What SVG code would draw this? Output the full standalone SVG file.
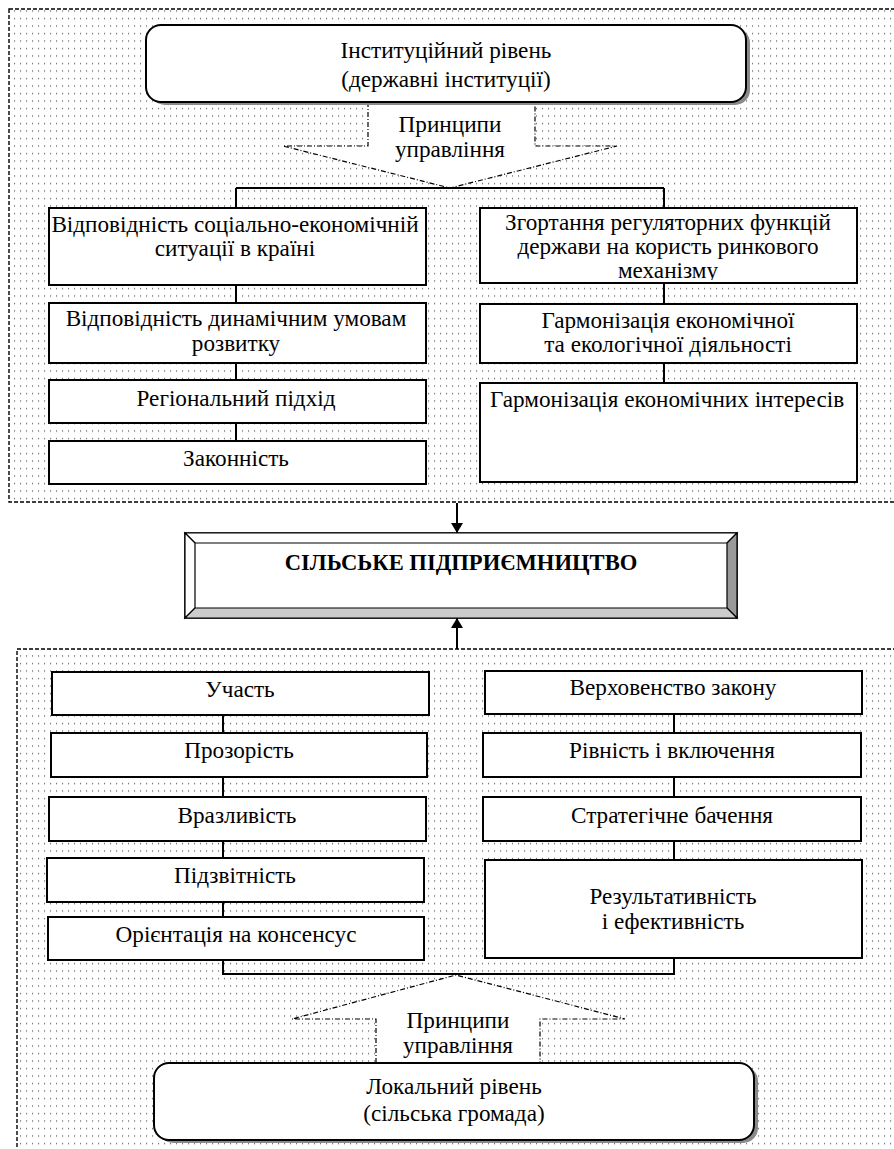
<svg xmlns="http://www.w3.org/2000/svg" width="894" height="1149" viewBox="0 0 894 1149">
<style>
.t{font-family:"Liberation Serif","Times New Roman",serif;font-size:23.2px;text-anchor:middle;fill:#000}
.b{fill:#fff;stroke:#000;stroke-width:2}
.c{fill:none;stroke:#000;stroke-width:2}
.outer{fill:url(#dots);stroke:#000;stroke-width:1.4;stroke-dasharray:4 2}
.dd{fill:none;stroke:#000;stroke-width:1.2;stroke-dasharray:5 2 1 2}
.sh{fill:#8a8a8a}
</style>
<defs>
<pattern id="dots" width="6" height="7.5" patternUnits="userSpaceOnUse">
<rect x="2" y="3" width="1.1" height="1.1" fill="#444"/>
</pattern>
<marker id="arr" viewBox="0 0 10 12" refX="10" refY="6" markerWidth="10" markerHeight="12" markerUnits="userSpaceOnUse" orient="auto">
<path d="M0,0 L10,6 L0,12 z" fill="#000"/>
</marker>
<clipPath id="clipR1"><rect x="480" y="208" width="377" height="72"/></clipPath>
</defs>

<g id="top-area">
<rect class="outer" x="9" y="9" width="892" height="493"/>
<polygon points="368,102 368,146 283,146 450,188 617,146 535,146 535,102" fill="#fff"/>
<polyline class="dd" points="368,102 368,146 283,146 450,188 617,146 535,146 535,102"/>
</g>

<g id="bottom-area">
<rect class="outer" x="17" y="649" width="884" height="520"/>
<polygon points="456,975 292,1019 376,1019 376,1063 540,1063 540,1019 625,1019" fill="#fff"/>
<polyline class="dd" points="376,1063 376,1019 292,1019 456,975 625,1019 540,1019 540,1063"/>
</g>

<g id="connectors">
<path class="c" d="M236,188 H664"/>
<path class="c" d="M236,188 V441"/>
<path class="c" d="M664,188 V383"/>
<path class="c" d="M223,715 V974 H674 V714"/>
<path class="c" d="M457,503 V533" marker-end="url(#arr)"/>
<path class="c" d="M457,649 V618" marker-end="url(#arr)"/>
</g>

<g id="institutional">
<rect class="sh" x="150" y="28" width="600" height="77" rx="15"/>
<rect class="b" x="146" y="25" width="600" height="77" rx="15"/>
<text class="t" x="446" y="58">Інституційний рівень</text>
<text class="t" x="446" y="87">(державні інституції)</text>
</g>

<g id="principles-top">
<text class="t" x="450" y="132">Принципи</text>
<text class="t" x="450" y="157">управління</text>
</g>

<g id="n-social">
<rect class="b" x="49" y="208" width="377" height="77"/>
<text class="t" x="235" y="232">Відповідність соціально-економічній</text>
<text class="t" x="235" y="256">ситуації в країні</text>
</g>
<g id="n-dynamic">
<rect class="b" x="49" y="303" width="377" height="60"/>
<text class="t" x="236" y="326">Відповідність динамічним умовам</text>
<text class="t" x="236" y="351">розвитку</text>
</g>
<g id="n-regional">
<rect class="b" x="49" y="380" width="377" height="43"/>
<text class="t" x="236" y="406">Регіональний підхід</text>
</g>
<g id="n-legality">
<rect class="b" x="49" y="441" width="377" height="43"/>
<text class="t" x="236" y="466">Законність</text>
</g>

<g id="n-regulatory">
<rect class="b" x="480" y="208" width="377" height="75"/>
<text class="t" x="668" y="230">Згортання регуляторних функцій</text>
<text class="t" x="668" y="254">держави на користь ринкового</text>
<text class="t" x="668" y="278" clip-path="url(#clipR1)">механізму</text>
</g>
<g id="n-eco">
<rect class="b" x="480" y="304" width="377" height="59"/>
<text class="t" x="668" y="328">Гармонізація економічної</text>
<text class="t" x="668" y="352">та екологічної діяльності</text>
</g>
<g id="n-interests">
<rect class="b" x="480" y="383" width="377" height="99"/>
<text class="t" x="667" y="407">Гармонізація економічних інтересів</text>
</g>

<g id="rural-enterprise">
<rect x="185" y="533" width="552" height="85" fill="#fff" stroke="#000" stroke-width="1.5"/>
<polygon points="185,533 737,533 727,543 195,543" fill="#fff" stroke="#000" stroke-width="1.2"/>
<polygon points="185,533 195,543 195,608 185,618" fill="#fff" stroke="#000" stroke-width="1.2"/>
<polygon points="737,533 737,618 727,608 727,543" fill="#9a9a9a" stroke="#000" stroke-width="1.2"/>
<polygon points="185,618 195,608 727,608 737,618" fill="#cccccc" stroke="#000" stroke-width="1.2"/>
<text class="t" x="461" y="570" style="font-weight:bold;font-size:22.6px">СІЛЬСЬКЕ ПІДПРИЄМНИЦТВО</text>
</g>

<g id="b-participation">
<rect class="b" x="52" y="672" width="377" height="43"/>
<text class="t" x="240" y="697">Участь</text>
</g>
<g id="b-transparency">
<rect class="b" x="51" y="733" width="376" height="44"/>
<text class="t" x="239" y="758">Прозорість</text>
</g>
<g id="b-responsiveness">
<rect class="b" x="49" y="797" width="377" height="44"/>
<text class="t" x="237" y="823">Вразливість</text>
</g>
<g id="b-accountability">
<rect class="b" x="47" y="858" width="377" height="44"/>
<text class="t" x="235" y="883">Підзвітність</text>
</g>
<g id="b-consensus">
<rect class="b" x="48" y="917" width="376" height="43"/>
<text class="t" x="236" y="942">Орієнтація на консенсус</text>
</g>

<g id="b-rule-of-law">
<rect class="b" x="485" y="671" width="377" height="43"/>
<text class="t" x="673" y="695">Верховенство закону</text>
</g>
<g id="b-equity">
<rect class="b" x="483" y="733" width="378" height="44"/>
<text class="t" x="672" y="758">Рівність і включення</text>
</g>
<g id="b-vision">
<rect class="b" x="483" y="797" width="378" height="44"/>
<text class="t" x="672" y="823">Стратегічне бачення</text>
</g>
<g id="b-effectiveness">
<rect class="b" x="485" y="860" width="377" height="98"/>
<text class="t" x="673" y="904">Результативність</text>
<text class="t" x="673" y="929">і ефективність</text>
</g>

<g id="principles-bottom">
<text class="t" x="458" y="1028">Принципи</text>
<text class="t" x="458" y="1053">управління</text>
</g>

<g id="local">
<rect class="sh" x="158" y="1066" width="600" height="77" rx="15"/>
<rect class="b" x="154" y="1063" width="600" height="77" rx="15"/>
<text class="t" x="454" y="1094">Локальний рівень</text>
<text class="t" x="454" y="1121">(сільська громада)</text>
</g>
</svg>
